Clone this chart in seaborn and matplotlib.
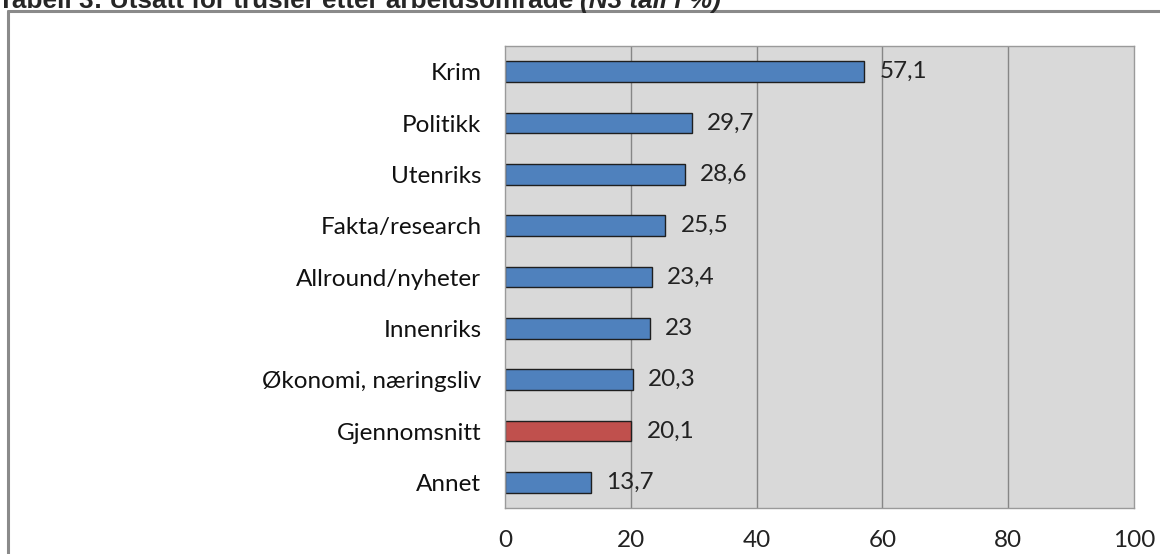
import matplotlib
matplotlib.use('Agg')
import matplotlib.pyplot as plt
import seaborn as sns
import pandas as pd
from matplotlib.lines import Line2D

categories = ['Krim', 'Politikk', 'Utenriks', 'Fakta/research', 'Allround/nyheter',
              'Innenriks', 'Økonomi, næringsliv', 'Gjennomsnitt', 'Annet']
values = [57.1, 29.7, 28.6, 25.5, 23.4, 23.0, 20.3, 20.1, 13.7]
value_labels = ['57,1', '29,7', '28,6', '25,5', '23,4', '23', '20,3', '20,1', '13,7']
groups = ['omr', 'omr', 'omr', 'omr', 'omr', 'omr', 'omr', 'snitt', 'omr']
x_ticks = [0, 20, 40, 60, 80, 100]

df = pd.DataFrame({'kategori': categories, 'andel': values, 'gruppe': groups})

sns.set_theme(style='white')
plt.rcParams['font.family'] = ['Lato', 'DejaVu Sans']

fs = 17.5
fig = plt.figure(figsize=(11.6, 5.54), dpi=100)
ax = fig.add_axes([505 / 1160, 1 - 508 / 554, (1134 - 505) / 1160, (508 - 46) / 554])
ax.set_facecolor('#d9d9d9')

sns.barplot(data=df, x='andel', y='kategori', hue='gruppe',
            palette={'omr': '#4f81bd', 'snitt': '#c0504d'}, saturation=1,
            order=categories, dodge=False, width=0.4, legend=False,
            edgecolor='#1f1f1f', linewidth=1, ax=ax)

ax.set_xlim(0, 100)
ax.set_ylim(8.5, -0.5)
ax.set_xticks(x_ticks)
ax.set_xticklabels([str(t) for t in x_ticks], fontsize=fs, color='#222222')
ax.tick_params(axis='x', length=0, pad=16)
ax.tick_params(axis='y', length=0, pad=17, labelsize=fs, labelcolor='#111111')
ax.set_xlabel('')
ax.set_ylabel('')
for t in x_ticks[1:-1]:
    ax.axvline(t, color='#868686', lw=1, zorder=0.5)
ax.set_axisbelow(True)
for s in ax.spines.values():
    s.set_color('#9a9a9a')
    s.set_linewidth(1)

for i, (v, lab) in enumerate(zip(values, value_labels)):
    ax.text(v + 2.4, i, lab, va='center', ha='left', fontsize=fs, color='#222222')

# outer frame of the figure box
fig.add_artist(Line2D([8 / 1160, 8 / 1160], [0, 1 - 11 / 554], color='#8a8a8a', lw=2.2))
fig.add_artist(Line2D([8 / 1160, 1], [1 - 11 / 554, 1 - 11 / 554], color='#8a8a8a', lw=2.2))

t1 = fig.text(-0.002, 1 - 8 / 554, 'Tabell 3: Utsatt for trusler etter arbeidsområde ',
              fontsize=18.8, fontweight='bold', family=['Liberation Sans', 'DejaVu Sans'],
              va='baseline', ha='left')
fig.canvas.draw()
bb = t1.get_window_extent(renderer=fig.canvas.get_renderer())
fig.text(bb.x1 / fig.bbox.width, 1 - 8 / 554, '(N3 tall i %)',
         fontsize=18.8, fontweight='bold', fontstyle='italic',
         family=['Liberation Sans', 'DejaVu Sans'], va='baseline', ha='left')

fig.savefig('out.png', dpi=100)
